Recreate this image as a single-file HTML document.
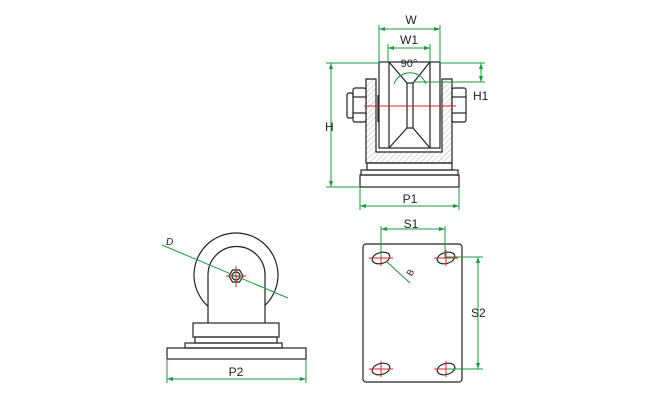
<!DOCTYPE html>
<html><head><style>html,body{margin:0;padding:0;background:#fff}svg{display:block}</style></head>
<body>
<svg width="650" height="400" viewBox="0 0 650 400" xmlns="http://www.w3.org/2000/svg" font-family="Liberation Sans, sans-serif">
<defs>
<pattern id="h" width="4" height="4" patternUnits="userSpaceOnUse" patternTransform="rotate(45)">
<line x1="0" y1="0" x2="0" y2="4" stroke="#999" stroke-width="0.7"/>
</pattern>
<marker id="a" viewBox="0 0 6 6" refX="6" refY="3" markerWidth="6" markerHeight="6" orient="auto-start-reverse" markerUnits="userSpaceOnUse">
<path d="M0,1 L6,3 L0,5 Z" fill="#1a9a3c"/>
</marker>
</defs>
<g fill="none" stroke="#222" stroke-width="1.2">
<path d="M366,79 H376 V152 H442 V79 H452 V163 H366 Z" fill="url(#h)"/>
<line x1="378" y1="95" x2="378" y2="122"/><line x1="440" y1="95" x2="440" y2="122"/>
<rect x="379" y="62" width="61" height="86" fill="#fff"/>
<line x1="389" y1="62" x2="389" y2="148"/><line x1="430" y1="62" x2="430" y2="148"/>
<path d="M389,62 L407,83 L413,83 L430,62"/>
<path d="M389,148 L407,128 L413,128 L430,148"/>
<line x1="407" y1="83" x2="407" y2="128"/><line x1="413" y1="83" x2="413" y2="128"/>
<rect x="353" y="88" width="13" height="34" rx="2" fill="#fff"/>
<line x1="353" y1="97" x2="366" y2="97"/><line x1="353" y1="113" x2="366" y2="113"/>
<rect x="347" y="93" width="6" height="25" rx="2" fill="#fff"/>
<rect x="452" y="88" width="14" height="34" rx="2" fill="#fff"/>
<line x1="452" y1="97" x2="466" y2="97"/><line x1="452" y1="113" x2="466" y2="113"/>
<rect x="367" y="163" width="85" height="7"/>
<rect x="361" y="170" width="97" height="5"/>
<rect x="360" y="175" width="99" height="12"/>
<circle cx="236" cy="275" r="42"/>
<path d="M208,323 V275 A28,28 0 0 1 265,275 V323" fill="#fff"/>
<polygon points="229,276 232.5,270 239.5,270 243,276 239.5,282 232.5,282" />
<circle cx="236" cy="276" r="4"/>
<rect x="193" y="323" width="86" height="14" fill="#fff"/>
<rect x="195" y="337" width="82" height="6"/>
<rect x="185" y="343" width="97" height="5"/>
<rect x="167" y="348" width="139" height="11"/>
<rect x="363" y="244" width="99" height="138" rx="3"/>
<ellipse cx="381" cy="258" rx="9" ry="5.5" transform="rotate(-15 381 258)"/>
<ellipse cx="446" cy="258" rx="9" ry="5.5" transform="rotate(-15 446 258)"/>
<ellipse cx="381" cy="369" rx="9" ry="5.5" transform="rotate(-15 381 369)"/>
<ellipse cx="446" cy="369" rx="9" ry="5.5" transform="rotate(-15 446 369)"/>
</g>
<g stroke="#e0202a" stroke-width="1">
<line x1="364" y1="106" x2="456" y2="106"/>
<line x1="226" y1="276" x2="246" y2="276"/><line x1="236" y1="266" x2="236" y2="287"/>
<line x1="369" y1="258" x2="393" y2="258"/><line x1="381" y1="250" x2="381" y2="266"/>
<line x1="434" y1="258" x2="458" y2="258"/><line x1="446" y1="250" x2="446" y2="266"/>
<line x1="369" y1="369" x2="393" y2="369"/><line x1="381" y1="361" x2="381" y2="377"/>
<line x1="434" y1="369" x2="458" y2="369"/><line x1="446" y1="361" x2="446" y2="377"/>
</g>
<g stroke="#1a9a3c" stroke-width="1" fill="none">
<line x1="379" y1="25" x2="379" y2="62"/><line x1="440" y1="25" x2="440" y2="62"/>
<line x1="379" y1="29" x2="440" y2="29" marker-start="url(#a)" marker-end="url(#a)"/>
<line x1="388" y1="44" x2="388" y2="62"/><line x1="430" y1="44" x2="430" y2="62"/>
<line x1="388" y1="48" x2="430" y2="48" marker-start="url(#a)" marker-end="url(#a)"/>
<path d="M394,84 A17,17 0 0 1 426,84"/>
<line x1="326" y1="63" x2="379" y2="63"/><line x1="326" y1="187" x2="360" y2="187"/>
<line x1="331" y1="63" x2="331" y2="187" marker-start="url(#a)" marker-end="url(#a)"/>
<line x1="440" y1="63" x2="485" y2="63"/><line x1="413" y1="82" x2="485" y2="82"/>
<line x1="481" y1="63" x2="481" y2="82" marker-start="url(#a)" marker-end="url(#a)"/>
<line x1="360" y1="187" x2="360" y2="210"/><line x1="459" y1="187" x2="459" y2="210"/>
<line x1="360" y1="206" x2="459" y2="206" marker-start="url(#a)" marker-end="url(#a)"/>
<line x1="162" y1="245" x2="288" y2="298"/>
<line x1="167" y1="359" x2="167" y2="383"/><line x1="306" y1="359" x2="306" y2="383"/>
<line x1="167" y1="379" x2="306" y2="379" marker-start="url(#a)" marker-end="url(#a)"/>
<line x1="381" y1="226" x2="381" y2="258"/><line x1="445" y1="226" x2="445" y2="258"/>
<line x1="381" y1="229" x2="445" y2="229" marker-start="url(#a)" marker-end="url(#a)"/>
<line x1="446" y1="257" x2="483" y2="257"/><line x1="446" y1="369" x2="483" y2="369"/>
<line x1="478" y1="257" x2="478" y2="369" marker-start="url(#a)" marker-end="url(#a)"/>
<line x1="386" y1="261" x2="410" y2="283"/>
</g>
<g fill="#222" font-size="12">
<text x="411" y="24" text-anchor="middle">W</text>
<text x="409" y="44" text-anchor="middle">W1</text>
<text x="409" y="67" text-anchor="middle" font-size="11">90°</text>
<text x="473" y="100">H1</text>
<text x="325" y="131">H</text>
<text x="410" y="203" text-anchor="middle">P1</text>
<text x="166" y="245" font-style="italic" font-size="10">D</text>
<text x="236" y="376" text-anchor="middle">P2</text>
<text x="411" y="228" text-anchor="middle">S1</text>
<text x="471" y="317">S2</text>
<text x="410" y="274" font-size="9" transform="rotate(-60 413 274)">B</text>
</g>
</svg>
</body></html>
